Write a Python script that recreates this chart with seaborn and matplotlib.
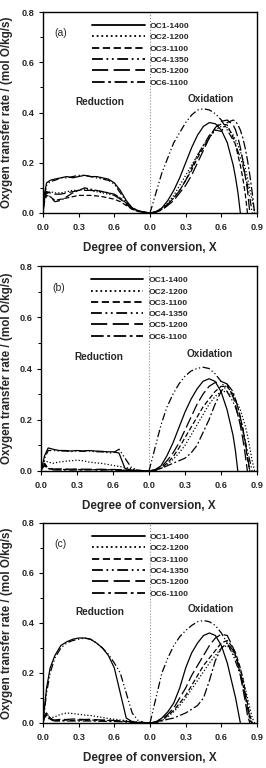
import numpy as np
import pandas as pd
import matplotlib
matplotlib.use("Agg")
import matplotlib.pyplot as plt
import seaborn as sns

# ---------------------------------------------------------------------------
# DATA
# ---------------------------------------------------------------------------
series = ["OC1-1400", "OC2-1200", "OC3-1100", "OC4-1350", "OC5-1200", "OC6-1100"]
panels = ["(a)", "(b)", "(c)"]

# degree of conversion grids
red_x = [0, 0.01, 0.03, 0.06, 0.1, 0.15, 0.2, 0.25, 0.3, 0.35, 0.4, 0.45,
         0.5, 0.55, 0.6, 0.65, 0.7, 0.75, 0.8, 0.85, 0.9]
ox_x = [0, 0.05, 0.1, 0.15, 0.2, 0.25, 0.3, 0.35, 0.4, 0.45, 0.5, 0.55,
        0.6, 0.65, 0.7, 0.72, 0.74, 0.76, 0.78, 0.8, 0.82, 0.84, 0.86, 0.88]
N = None

# panel (a)
red_a = {
    "OC1-1400": [0, 0.07, 0.12, 0.13, 0.135, 0.14, 0.145, 0.14, 0.145, 0.15, 0.145, 0.145, 0.14, 0.135, 0.12, 0.09, 0.05, 0.02, 0.008, 0.003, 0],
    "OC2-1200": [0, 0.05, 0.08, 0.085, 0.08, 0.08, 0.085, 0.09, 0.09, 0.095, 0.09, 0.085, 0.08, 0.075, 0.07, 0.06, 0.04, 0.02, 0.01, 0.004, 0],
    "OC3-1100": [0, 0.04, 0.07, 0.065, 0.05, 0.055, 0.06, 0.065, 0.07, 0.07, 0.07, 0.068, 0.065, 0.06, 0.055, 0.045, 0.03, 0.015, 0.006, 0.002, 0],
    "OC4-1350": [0, 0.06, 0.11, 0.125, 0.13, 0.14, 0.14, 0.145, 0.15, 0.15, 0.145, 0.14, 0.135, 0.13, 0.115, 0.08, 0.045, 0.02, 0.01, 0.004, 0],
    "OC5-1200": [0, 0.05, 0.085, 0.08, 0.075, 0.075, 0.08, 0.085, 0.09, 0.09, 0.09, 0.088, 0.085, 0.08, 0.07, 0.055, 0.035, 0.015, 0.007, 0.003, 0],
    "OC6-1100": [0, 0.05, 0.085, 0.065, 0.045, 0.05, 0.065, 0.08, 0.09, 0.1, 0.095, 0.09, 0.085, 0.08, 0.075, 0.06, 0.04, 0.02, 0.008, 0.003, 0],
}
ox_a = {
    "OC1-1400": [0, 0.005, 0.02, 0.05, 0.09, 0.14, 0.2, 0.26, 0.31, 0.345, 0.36, 0.355, 0.33, 0.28, 0.19, 0.14, 0.08, 0, N, N, N, N, N, N],
    "OC2-1200": [0, 0.005, 0.02, 0.04, 0.07, 0.11, 0.15, 0.19, 0.23, 0.27, 0.3, 0.33, 0.345, 0.34, 0.31, 0.29, 0.27, 0.245, 0.215, 0.18, 0.14, 0.095, 0.05, 0],
    "OC3-1100": [0, 0.004, 0.015, 0.035, 0.06, 0.09, 0.13, 0.17, 0.22, 0.26, 0.3, 0.34, 0.355, 0.35, 0.3, 0.27, 0.23, 0.19, 0.14, 0.08, 0, N, N, N],
    "OC4-1350": [0, 0.08, 0.16, 0.22, 0.28, 0.32, 0.36, 0.39, 0.41, 0.415, 0.41, 0.395, 0.37, 0.33, 0.29, 0.27, 0.245, 0.22, 0.19, 0.15, 0.11, 0.06, 0, N],
    "OC5-1200": [0, 0.003, 0.012, 0.03, 0.05, 0.08, 0.11, 0.15, 0.2, 0.25, 0.3, 0.34, 0.365, 0.37, 0.35, 0.33, 0.3, 0.26, 0.21, 0.15, 0.09, 0, N, N],
    "OC6-1100": [0, 0.004, 0.015, 0.035, 0.06, 0.09, 0.13, 0.18, 0.23, 0.27, 0.31, 0.33, 0.325, 0.36, 0.37, 0.365, 0.35, 0.33, 0.3, 0.26, 0.21, 0.15, 0.08, 0],
}

# panel (b)
red_b = {
    "OC1-1400": [0, 0.02, 0.06, 0.09, 0.085, 0.08, 0.08, 0.078, 0.08, 0.078, 0.08, 0.078, 0.077, 0.075, 0.075, 0.07, 0.01, 0.004, 0.002, 0.001, 0],
    "OC2-1200": [0, 0.02, 0.04, 0.035, 0.03, 0.035, 0.038, 0.04, 0.042, 0.04, 0.035, 0.032, 0.03, 0.026, 0.022, 0.018, 0.014, 0.009, 0.004, 0.001, 0],
    "OC3-1100": [0, 0.02, 0.03, 0.01, 0.006, 0.006, 0.006, 0.005, 0.006, 0.005, 0.005, 0.005, 0.005, 0.005, 0.005, 0.004, 0.003, 0.002, 0.001, 0, 0],
    "OC4-1350": [0, 0.02, 0.05, 0.08, 0.08, 0.078, 0.078, 0.076, 0.078, 0.077, 0.078, 0.075, 0.075, 0.072, 0.07, 0.085, 0.05, 0.015, 0.004, 0.001, 0],
    "OC5-1200": [0, 0.015, 0.025, 0.012, 0.008, 0.008, 0.008, 0.007, 0.008, 0.007, 0.007, 0.006, 0.007, 0.006, 0.006, 0.005, 0.004, 0.002, 0.001, 0, 0],
    "OC6-1100": [0, 0.01, 0.02, 0.01, 0.004, 0.004, 0.004, 0.004, 0.004, 0.004, 0.005, 0.004, 0.004, 0.004, 0.004, 0.003, 0.002, 0.001, 0, 0, 0],
}
ox_b = {
    "OC1-1400": [0, 0.005, 0.02, 0.06, 0.11, 0.17, 0.23, 0.28, 0.32, 0.35, 0.36, 0.35, 0.31, 0.24, 0.14, 0.08, 0, N, N, N, N, N, N, N],
    "OC2-1200": [0, 0.003, 0.01, 0.025, 0.045, 0.07, 0.1, 0.14, 0.18, 0.22, 0.26, 0.29, 0.31, 0.31, 0.29, 0.275, 0.26, 0.24, 0.21, 0.18, 0.14, 0.09, 0.04, 0],
    "OC3-1100": [0, 0.003, 0.012, 0.03, 0.055, 0.09, 0.13, 0.17, 0.21, 0.25, 0.28, 0.31, 0.33, 0.33, 0.3, 0.28, 0.25, 0.21, 0.17, 0.11, 0.05, 0, N, N],
    "OC4-1350": [0, 0.09, 0.18, 0.25, 0.3, 0.34, 0.37, 0.39, 0.4, 0.405, 0.4, 0.38, 0.35, 0.31, 0.27, 0.25, 0.22, 0.19, 0.16, 0.12, 0.08, 0.04, 0, N],
    "OC5-1200": [0, 0.004, 0.015, 0.04, 0.07, 0.11, 0.16, 0.21, 0.26, 0.3, 0.33, 0.345, 0.35, 0.34, 0.29, 0.26, 0.22, 0.18, 0.13, 0.07, 0, N, N, N],
    "OC6-1100": [0, 0.002, 0.01, 0.02, 0.03, 0.04, 0.05, 0.07, 0.1, 0.15, 0.2, 0.26, 0.31, 0.34, 0.31, 0.28, 0.25, 0.21, 0.17, 0.12, 0.06, 0, N, N],
}

# panel (c)
red_c = {
    "OC1-1400": [0, 0.05, 0.14, 0.22, 0.27, 0.31, 0.325, 0.335, 0.34, 0.34, 0.335, 0.32, 0.3, 0.27, 0.22, 0.12, 0.02, 0.005, 0.002, 0.001, 0],
    "OC2-1200": [0, 0.03, 0.04, 0.02, 0.025, 0.035, 0.04, 0.038, 0.035, 0.032, 0.03, 0.026, 0.022, 0.018, 0.015, 0.012, 0.01, 0.007, 0.004, 0.001, 0],
    "OC3-1100": [0, 0.03, 0.04, 0.02, 0.01, 0.01, 0.012, 0.01, 0.012, 0.01, 0.012, 0.011, 0.01, 0.01, 0.009, 0.008, 0.006, 0.003, 0.001, 0, 0],
    "OC4-1350": [0, 0.04, 0.12, 0.2, 0.26, 0.3, 0.32, 0.33, 0.335, 0.34, 0.335, 0.32, 0.3, 0.275, 0.24, 0.2, 0.12, 0.04, 0.01, 0.002, 0],
    "OC5-1200": [0, 0.025, 0.035, 0.015, 0.012, 0.015, 0.014, 0.016, 0.015, 0.014, 0.015, 0.013, 0.012, 0.012, 0.01, 0.008, 0.006, 0.004, 0.002, 0, 0],
    "OC6-1100": [0, 0.02, 0.03, 0.012, 0.008, 0.008, 0.008, 0.008, 0.008, 0.008, 0.008, 0.007, 0.007, 0.006, 0.006, 0.005, 0.004, 0.002, 0.001, 0, 0],
}
ox_c = {
    "OC1-1400": [0, 0.005, 0.02, 0.045, 0.08, 0.14, 0.22, 0.28, 0.32, 0.35, 0.36, 0.35, 0.31, 0.24, 0.14, 0.1, 0.05, 0, N, N, N, N, N, N],
    "OC2-1200": [0, 0.003, 0.01, 0.025, 0.045, 0.07, 0.1, 0.135, 0.17, 0.205, 0.24, 0.27, 0.3, 0.31, 0.28, 0.26, 0.24, 0.21, 0.18, 0.14, 0.1, 0.06, 0.02, 0],
    "OC3-1100": [0, 0.003, 0.012, 0.03, 0.05, 0.08, 0.11, 0.15, 0.19, 0.23, 0.26, 0.29, 0.32, 0.33, 0.3, 0.28, 0.25, 0.22, 0.18, 0.13, 0.08, 0.03, 0, N],
    "OC4-1350": [0, 0.1, 0.2, 0.26, 0.31, 0.345, 0.37, 0.39, 0.405, 0.41, 0.405, 0.39, 0.36, 0.32, 0.27, 0.245, 0.22, 0.19, 0.155, 0.11, 0.07, 0.02, 0, N],
    "OC5-1200": [0, 0.004, 0.015, 0.035, 0.06, 0.1, 0.14, 0.19, 0.23, 0.27, 0.31, 0.34, 0.355, 0.35, 0.3, 0.27, 0.235, 0.19, 0.14, 0.09, 0.03, 0, N, N],
    "OC6-1100": [0, 0.002, 0.008, 0.015, 0.02, 0.03, 0.04, 0.055, 0.07, 0.1, 0.17, 0.25, 0.3, 0.32, 0.29, 0.265, 0.24, 0.2, 0.16, 0.11, 0.06, 0.01, 0, N],
}

reductions = [red_a, red_b, red_c]
oxidations = [ox_a, ox_b, ox_c]

# line styles (seaborn dash specs)
dash_map = {
    "OC1-1400": "",
    "OC2-1200": (1, 1.6),
    "OC3-1100": (4, 2),
    "OC4-1350": (6, 2, 1, 2, 1, 2),
    "OC5-1200": (9, 3),
    "OC6-1100": (7, 2, 1.5, 2),
}

# ---------------------------------------------------------------------------
# PLOT
# ---------------------------------------------------------------------------
sns.set_style("ticks")
plt.rcParams["font.family"] = ["Liberation Sans", "DejaVu Sans"]

fig = plt.figure(figsize=(2.66, 7.68), dpi=100)
W, H = 266.0, 768.0
boxes = [(43, 12, 257, 213), (41, 266, 257, 471), (43, 523, 257, 723)]

xticks = [0, 0.3, 0.6, 0.9, 1.2, 1.5, 1.8]
xticklabels = ["0.0", "0.3", "0.6", "0.0", "0.3", "0.6", "0.9"]

for p, (l, t, r, b) in enumerate(boxes):
    ax = fig.add_axes([l / W, 1 - b / H, (r - l) / W, (b - t) / H])

    rows = []
    for s in series:
        for xv, yv in zip(red_x, reductions[p][s]):
            if yv is not None:
                rows.append((s, "red", xv, yv))
        for xv, yv in zip(ox_x, oxidations[p][s]):
            if yv is not None:
                rows.append((s, "ox", 0.9 + xv, yv))
    df = pd.DataFrame(rows, columns=["series", "phase", "X", "rate"])

    sns.lineplot(data=df, x="X", y="rate", style="series", style_order=series,
                 units="phase", estimator=None, dashes=dash_map, color="k",
                 linewidth=0.9, sort=True, ax=ax, legend="full")

    handles, labels = ax.get_legend_handles_labels()
    leg = ax.legend(handles, labels, loc="upper left",
                    bbox_to_anchor=(0.23, 0.95), frameon=False,
                    prop={"weight": "bold", "size": 6.1},
                    handlelength=6.2, handletextpad=0.6, labelspacing=0.4,
                    borderpad=0, borderaxespad=0)
    for hl in leg.legend_handles:
        hl.set_linewidth(1.3)

    ax.axvline(0.9, color="0.55", linestyle=":", linewidth=0.8, zorder=0)

    ax.set_xlim(0, 1.8)
    ax.set_ylim(0, 0.8)
    ax.set_xticks(xticks)
    ax.set_xticklabels(xticklabels)
    ax.set_yticks([0, 0.2, 0.4, 0.6, 0.8])
    ax.set_yticklabels(["0.0", "0.2", "0.4", "0.6", "0.8"])
    ax.set_yticks(np.arange(0.1, 0.8, 0.2), minor=True)

    ax.tick_params(axis="both", which="major", direction="out", length=3,
                   width=0.8, labelsize=6.6, color="k")
    ax.tick_params(axis="x", pad=4)
    ax.tick_params(axis="y", pad=3)
    ax.tick_params(axis="y", which="minor", direction="out", length=2,
                   width=0.7, color="k")
    for lab in ax.get_xticklabels() + ax.get_yticklabels():
        lab.set_fontweight("bold")

    for sp in ax.spines.values():
        sp.set_visible(True)
        sp.set_linewidth(1.0)
        sp.set_color("k")

    ax.set_xlabel("Degree of conversion, X", fontsize=8.4, fontweight="bold")
    ax.xaxis.label.set_va("center")
    ax.xaxis.set_label_coords(0.5, -35.0 / (b - t))
    ax.set_ylabel("Oxygen transfer rate / (mol O/kg/s)", fontsize=8.4,
                  fontweight="bold")
    ax.yaxis.label.set_va("center")
    ax.yaxis.set_label_coords(-(l - 7.5) / (r - l), 0.5)

    ax.text(0.15, 0.715, panels[p], fontsize=7.5, ha="center", va="center")
    ax.text(0.48, 0.443, "Reduction", fontsize=7.2, fontweight="bold",
            ha="center", va="center")
    ax.text(1.41, 0.455, "Oxidation", fontsize=7.2, fontweight="bold",
            ha="center", va="center")

plt.savefig("out.png", dpi=100)
